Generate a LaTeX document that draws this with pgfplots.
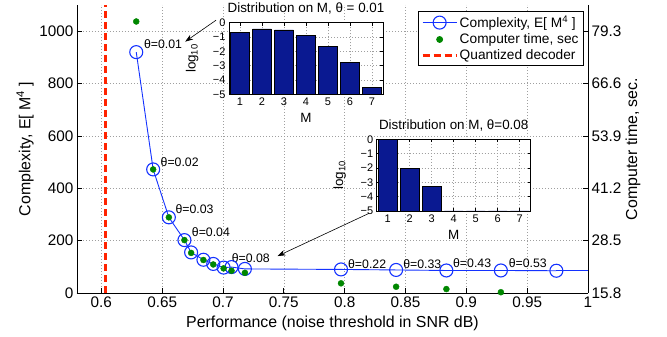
\documentclass[border=0pt]{standalone}
\usepackage{fontspec}
\setmainfont{Liberation Sans}
\usepackage{pgfplots}
\usepackage{pgfplotstable}
\pgfplotsset{compat=1.18}
\usetikzlibrary{arrows.meta}
\definecolor{mblue}{RGB}{20,50,255}
\definecolor{mgreen}{RGB}{0,135,0}
\definecolor{mred}{RGB}{255,35,0}
\definecolor{barblue}{RGB}{10,25,145}
\newcommand\tickfont{\fontsize{15.3}{18}\selectfont}
\newcommand\labfont{\fontsize{15.9}{18}\selectfont}
\newcommand\legfont{\fontsize{13.7}{16}\selectfont}
\newcommand\thfont{\fontsize{12.3}{14}\selectfont}
\newcommand\insfont{\fontsize{11}{13}\selectfont}
\newcommand\titfont{\fontsize{13.4}{16}\selectfont}
\pgfplotsset{
  legA/.style={legend image code/.code={\draw[mark repeat=2,mark phase=2,##1] plot coordinates {(0pt,0pt) (17pt,0pt) (34pt,0pt)};}},
  legB/.style={legend image code/.code={\draw[##1] (0pt,0pt) -- (34pt,0pt);}},
}
\pgfplotstableread[row sep=\\]{
m v\\
1 -0.68\\
2 -0.44\\
3 -0.51\\
4 -0.90\\
5 -1.64\\
6 -2.77\\
7 -4.50\\
}\distA
\pgfplotstableread[row sep=\\]{
m v\\
1 0.00\\
2 -2.02\\
3 -3.30\\
4 -5.00\\
5 -5.00\\
6 -5.00\\
7 -5.00\\
}\distB
\begin{document}
\begin{tikzpicture}
\pgfplotsset{
  mgrid/.style={major grid style={gray!75, dash pattern=on 0.8pt off 2.2pt, line width=0.6pt}},
  inset/.style={scale only axis, width=154pt, height=71.6pt,
    axis background/.style={fill=white},
    xmin=0.5, xmax=7.5, ymin=0, ymax=5,
    xtick={1,2,3,4,5,6,7}, ytick={0,1,2,3,4,5},
    yticklabels={−5,−4,−3,−2,−1,0},
    grid=major, mgrid, tick align=inside, major tick length=3pt,
    axis line style={line width=0.9pt},
    tick style={black, line width=0.6pt},
    tick label style={font=\insfont},
    /pgf/number format/assume math mode=true,
    xlabel={M}, ylabel={log\textsubscript{10}},
    label style={font=\titfont},
    xlabel style={at={(axis description cs:0.5,-0.33)}, anchor=center},
    ylabel style={at={(axis description cs:-0.24,0.5)}, anchor=center},
    title style={font=\titfont, at={(axis description cs:0.5,1)}, anchor=base, yshift=3.7pt},
  },
}
\begin{axis}[name=main, at={(0pt,0pt)}, anchor=south west,
  scale only axis, width=511pt, height=288pt,
  xmin=0.58, xmax=1, ymin=0, ymax=1100,
  axis x line*=bottom, axis y line*=left,
  axis line style={-, line width=0.9pt},
  xtick={0.6,0.65,0.7,0.75,0.8,0.85,0.9,0.95,1},
  xticklabels={0.6,0.65,0.7,0.75,0.8,0.85,0.9,0.95,1},
  ytick={0,200,400,600,800,1000},
  yticklabels={0,200,400,600,800,1000},
  tick align=inside, major tick length=5pt,
  tick style={black, line width=0.7pt},
  grid=major, mgrid,
  tick label style={font=\tickfont},
  label style={font=\labfont},
  /pgf/number format/assume math mode=true,
  xlabel={Performance (noise threshold in SNR dB)},
  ylabel={Complexity, E[ M\textsuperscript{4} ]},
  xlabel style={at={(axis description cs:0.5,-0.104)}, anchor=center},
  ylabel style={at={(axis description cs:-0.1018,0.5)}, anchor=center},
  legend style={at={(axis description cs:0.992,0.979)}, anchor=north east,
    draw=black, line width=0.8pt, fill=white, font=\legfont,
    inner xsep=3pt, inner ysep=2.5pt, row sep=0.5pt},
  legend cell align=left,
]
\addplot[mblue, line width=0.9pt, mark=o, mark size=6.5pt,
  mark options={line width=1.1pt, fill=none}, legA]
coordinates {
(0.6287,920) (0.6426,472) (0.6555,289) (0.6683,202) (0.6738,155)
(0.6839,127) (0.6920,111) (0.7005,97) (0.7070,99) (0.7180,92)
(0.7970,90) (0.8423,88) (0.8836,86) (0.9284,86) (0.9740,85)
};
\addlegendentry{Complexity, E[ M\textsuperscript{4} ]}
\addlegendimage{only marks, mark=*, mgreen, mark size=3pt, legA}
\addlegendentry{Computer time, sec}
\addplot[mred, line width=2.2pt, dash pattern=on 7pt off 4pt, legB]
coordinates {(0.6035,0) (0.6035,1100)};
\addlegendentry{Quantized decoder}
\addplot[mblue, line width=0.9pt, forget plot] coordinates {(0.9740,85) (1.0,85)};
\node[anchor=west, font=\thfont, inner sep=0pt] at (axis cs:0.635,949) {θ=0.01};
\node[anchor=west, font=\thfont, inner sep=0pt] at (axis cs:0.6486,501) {θ=0.02};
\node[anchor=west, font=\thfont, inner sep=0pt] at (axis cs:0.6609,321) {θ=0.03};
\node[anchor=west, font=\thfont, inner sep=0pt] at (axis cs:0.6743,232) {θ=0.04};
\node[anchor=west, font=\thfont, inner sep=0pt] at (axis cs:0.7071,132) {θ=0.08};
\node[anchor=west, font=\thfont, inner sep=0pt] at (axis cs:0.8027,110) {θ=0.22};
\node[anchor=west, font=\thfont, inner sep=0pt] at (axis cs:0.8480,110) {θ=0.33};
\node[anchor=west, font=\thfont, inner sep=0pt] at (axis cs:0.8890,116) {θ=0.43};
\node[anchor=west, font=\thfont, inner sep=0pt] at (axis cs:0.9347,116) {θ=0.53};
\draw[black, line width=0.6pt, -{Stealth[length=8pt,width=5.5pt]}] (axis cs:0.6943,1042) -- (axis cs:0.6689,960);
\draw[black, line width=0.6pt, -{Stealth[length=8pt,width=5.5pt]}] (axis cs:0.8199,304) -- (axis cs:0.7448,141);
\end{axis}
\begin{axis}[at={(0pt,0pt)}, anchor=south west,
  scale only axis, width=511pt, height=288pt,
  xmin=0.58, xmax=1, ymin=15.8, ymax=85.65,
  axis x line=none, axis y line*=right,
  axis line style={-, line width=0.9pt},
  ytick={15.8,28.5,41.2,53.9,66.6,79.3},
  yticklabels={15.8,28.5,41.2,53.9,66.6,79.3},
  tick align=inside, major tick length=5pt,
  tick style={black, line width=0.7pt},
  tick label style={font=\tickfont},
  label style={font=\labfont},
  /pgf/number format/assume math mode=true,
  ylabel={Computer time, sec.},
  ylabel style={at={(axis description cs:1.088,0.5)}, anchor=center},
]
\addplot[only marks, mark=*, mgreen, mark size=3pt] coordinates {
(0.6287,81.65) (0.6426,45.77) (0.6555,34.15) (0.6683,28.63) (0.6738,25.52)
(0.6839,23.80) (0.6920,22.72) (0.7005,21.77) (0.7070,21.20) (0.7180,20.69)
(0.7970,18.15) (0.8423,17.32) (0.8836,16.75) (0.9284,15.99)
};
\end{axis}
\begin{axis}[inset, at={(152pt,198.7pt)}, anchor=south west,
  title={Distribution on M, θ = 0.01}]
\addplot[ybar, bar width=0.85, fill=barblue, draw=black, line width=0.6pt]
  table[x=m, y expr=\thisrow{v}+5] {\distA};
\end{axis}
\begin{axis}[inset, at={(299.7pt,82pt)}, anchor=south west,
  title={Distribution on M, θ=0.08}]
\addplot[ybar, bar width=0.85, fill=barblue, draw=black, line width=0.6pt]
  table[x=m, y expr=\thisrow{v}+5] {\distB};
\end{axis}
\pgfresetboundingbox
\path[use as bounding box] (-77pt,-44pt) rectangle (590pt,293pt);
\end{tikzpicture}
\end{document}
